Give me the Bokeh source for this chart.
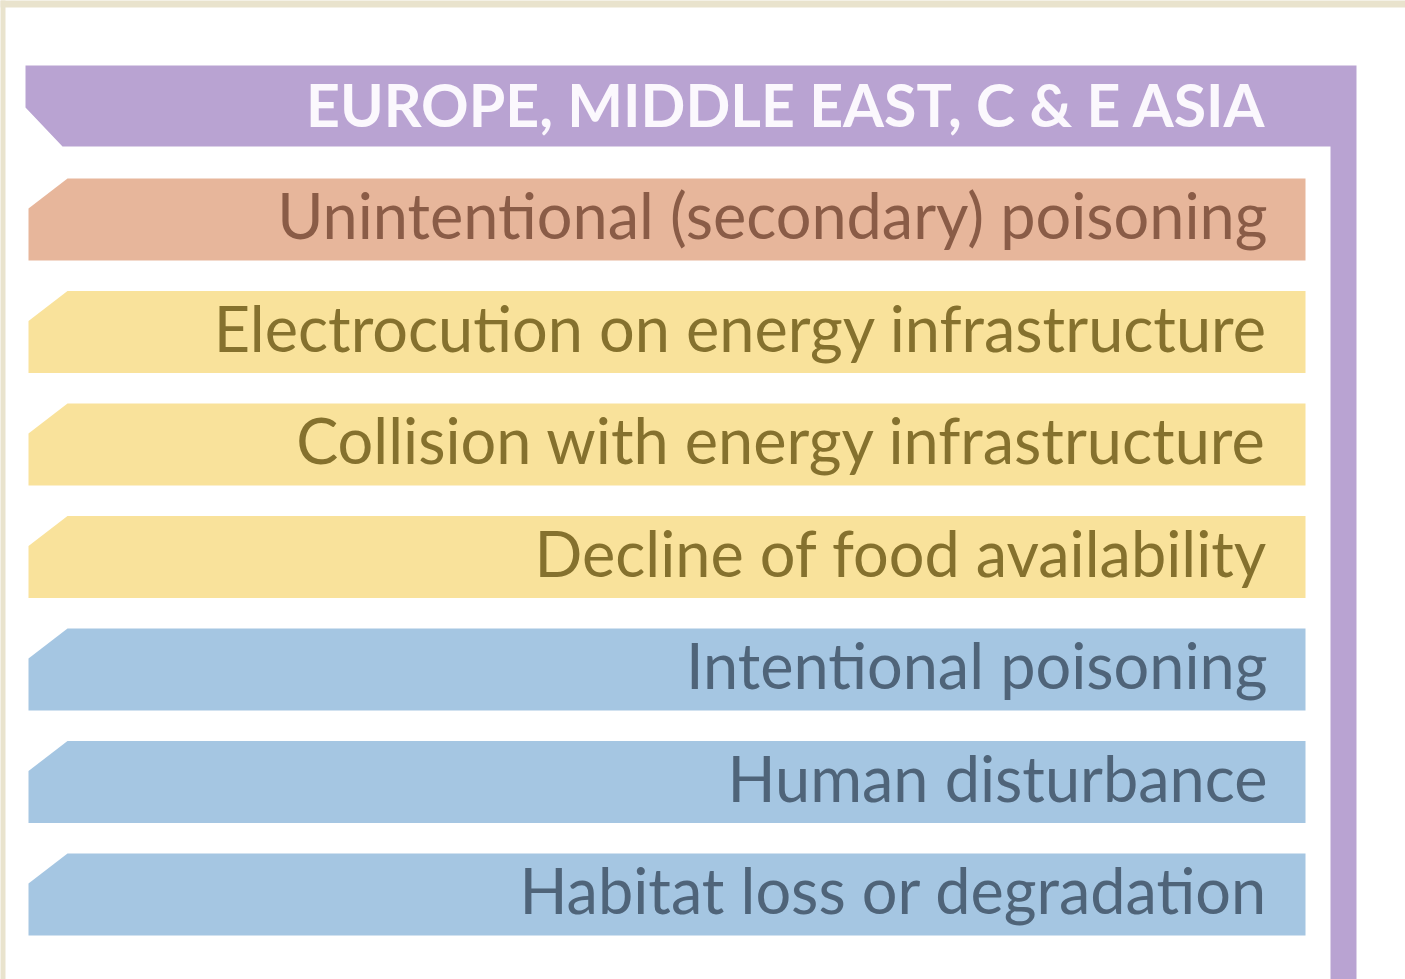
from bokeh.plotting import figure
from bokeh.models import Range1d, ColumnDataSource
from bokeh.core.properties import value
from bokeh.embed import file_html
from bokeh.resources import INLINE

# ---- data ----
region = "EUROPE, MIDDLE EAST, C & E ASIA"
threats = [
    "Unintentional (secondary) poisoning",
    "Electrocution on energy infrastructure",
    "Collision with energy infrastructure",
    "Decline of food availability",
    "Intentional poisoning",
    "Human disturbance",
    "Habitat loss or degradation",
]
threat_groups = ["orange", "yellow", "yellow", "yellow", "blue", "blue", "blue"]

# ---- styles ----
fill_colors = {"orange": "#e7b69b", "yellow": "#f9e29b", "blue": "#a5c6e2"}
text_colors = {"orange": "#8a5c47", "yellow": "#85712e", "blue": "#4f6479"}
purple = "#b9a3d2"
cream = "#e9e3cd"
FONT = "Lato"

W, H = 1405, 979
p = figure(width=W, height=H, output_backend="svg", toolbar_location=None,
           x_range=Range1d(0, W), y_range=Range1d(H, 0),
           min_border=0, background_fill_color="white", border_fill_color="white")
p.axis.visible = False
p.grid.visible = False
p.outline_line_color = None

# cream frame strips (top and left)
p.quad(left=[-10, -10], right=[W + 10, 5], top=[-10, -10], bottom=[7, H + 10],
       fill_color=cream, line_color=None)

# header + right rail
hdr_left, hdr_right, hdr_top, hdr_bot = 25, 1356, 65, 146
bar_w = 26
ch_x, ch_y = 37, 39
p.patch([hdr_left, hdr_right, hdr_right, hdr_right - bar_w, hdr_right - bar_w,
         hdr_left + ch_x, hdr_left],
        [hdr_top, hdr_top, H + 20, H + 20, hdr_bot, hdr_bot, hdr_bot - ch_y],
        fill_color=purple, line_color=None)
p.text(x=[1266], y=[104], text=[region], text_align="right",
       text_baseline="alphabetic", text_color="#fbf8fd", text_font=value(FONT),
       text_font_style="bold", text_font_size="59px")

# bars
first_top, pitch, bar_h = 178, 112.5, 82
x0, x1 = 28, 1305
cx, cy = 39, 30
xs, ys, fills = [], [], []
tx, ty, tcol = [], [], []
for i, (lab, g) in enumerate(zip(threats, threat_groups)):
    top = first_top + i * pitch
    bot = top + bar_h
    xs.append([x0 + cx, x1, x1, x0, x0])
    ys.append([top, top, bot, bot, top + cy])
    fills.append(fill_colors[g])
    tx.append(1267)
    ty.append(top + 36)
    tcol.append(text_colors[g])

p.patches(xs=xs, ys=ys, fill_color=fills, line_color=None)
src = ColumnDataSource(dict(x=tx, y=ty, text=threats, color=tcol))
p.text(x="x", y="y", text="text", source=src, text_align="right",
       text_baseline="alphabetic", text_color="color", text_font=value(FONT),
       text_font_size="63px")

open("out.html", "w").write(file_html(p, INLINE))
